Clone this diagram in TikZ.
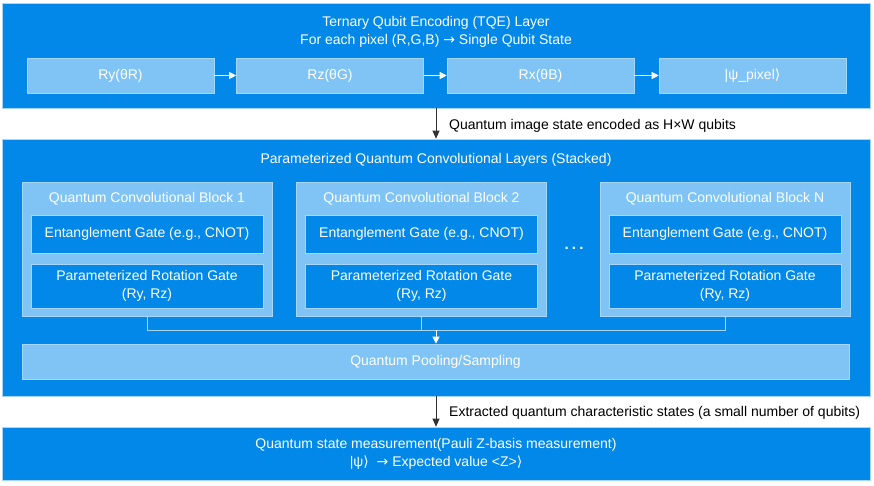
\documentclass[tikz,border=0pt]{standalone}
\usepackage{fontspec}
\setmainfont{Liberation Sans}
\newfontfamily\djv{DejaVu Sans}
\newcommand\rang{{\djv ⟩}}
\newcommand\rarr{{\djv →}}
\usetikzlibrary{arrows.meta}
\definecolor{dk}{HTML}{0288E9}
\definecolor{lt}{HTML}{80C4F5}
\definecolor{edgec}{HTML}{A6D6F8}
\definecolor{arr}{HTML}{333333}
\begin{document}
\begin{tikzpicture}[x=1pt,y=-1pt,
  every node/.style={inner sep=0pt, font=\fontsize{14}{18}\selectfont, text=white, align=center},
  dkbox/.style={fill=dk, draw=edgec, line width=0.6pt},
  ltbox/.style={fill=lt, draw=edgec, line width=0.6pt},
  gatebox/.style={dkbox, minimum width=232pt},
  blockbox/.style={ltbox, minimum width=250pt, minimum height=134pt},
  encbox/.style={ltbox, minimum width=187pt, minimum height=35pt},
  wharrow/.style={draw=white, line width=0.8pt, -{Triangle[length=7pt,width=7pt]}},
  dkarrow/.style={draw=arr, line width=0.8pt, -{Triangle[length=8pt,width=7pt]}},
  ltline/.style={draw=edgec, line width=0.8pt},
  lbl/.style={text=black, anchor=west}]
\useasboundingbox (0,0) rectangle (874,486);
\fill[white] (0,0) rectangle (874,486);

% Top layer
\node[dkbox, minimum width=868pt, minimum height=105pt] (tqe) at (436,55.5) {};
\node (tqet) at (436,31.5) {Ternary Qubit Encoding (TQE) Layer\\For each pixel (R,G,B) \rarr{} Single Qubit State};
\node[encbox] (ry) at (120.5,75.5) {Ry(θR)};
\node[encbox] (rz) at (330,75.5) {Rz(θG)};
\node[encbox] (rx) at (540.5,75.5) {Rx(θB)};
\node[encbox] (psi) at (752.5,75.5) {|ψ\_pixel\rang};
\draw[wharrow] (ry) -- (rz);
\draw[wharrow] (rz) -- (rx);
\draw[wharrow] (rx) -- (psi);

% Convolutional layers
\node[dkbox, minimum width=868pt, minimum height=257pt] (conv) at (436,267.5) {};
\draw[dkarrow] (tqe) -- (conv);
\node[lbl] (l1) at (449,125.5) {Quantum image state encoded as H×W qubits};
\node (convt) at (436,160) {Parameterized Quantum Convolutional Layers (Stacked)};

\node[blockbox] (b1) at (147,249) {};
\node[blockbox] (b2) at (421.5,249) {};
\node[blockbox] (b3) at (725,249) {};
\node (b1t) at (147,199) {Quantum Convolutional Block 1};
\node (b2t) at (421.5,199) {Quantum Convolutional Block 2};
\node (b3t) at (725,199) {Quantum Convolutional Block N};
\node[gatebox, minimum height=38pt] (e1) at (147,234) {Entanglement Gate (e.g., CNOT)};
\node[gatebox, minimum height=38pt] (e2) at (421.5,234) {Entanglement Gate (e.g., CNOT)};
\node[gatebox, minimum height=38pt] (e3) at (725,234) {Entanglement Gate (e.g., CNOT)};
\node[gatebox, minimum height=44pt] (p1) at (147,286) {Parameterized Rotation Gate\\(Ry, Rz)};
\node[gatebox, minimum height=44pt] (p2) at (421.5,286) {Parameterized Rotation Gate\\(Ry, Rz)};
\node[gatebox, minimum height=44pt] (p3) at (725,286) {Parameterized Rotation Gate\\(Ry, Rz)};
\node[anchor=base, font=\fontsize{15}{18}\bfseries] (dots) at (574,249) {.\hspace{3.2pt}.\hspace{3.2pt}.};

\node[ltbox, minimum width=827pt, minimum height=35pt] (pool) at (435.5,361.5) {Quantum Pooling/Sampling};
\coordinate (jl) at (147,330);
\coordinate (jr) at (725,330);
\coordinate (jm) at (436,330);
\draw[ltline] (b1.south) -- (jl) -- (jr) -- (b3.south);
\draw[ltline] (b2.south) -- (b2.south |- jl);
\draw[wharrow] (jm) -- (jm |- pool.north);

% Measurement
\node[dkbox, minimum width=868pt, minimum height=53pt] (meas) at (436,453.5) {Quantum state measurement(Pauli Z-basis measurement)\\|ψ\rang\ \ \rarr{} Expected value <Z>\rang};
\draw[dkarrow] (conv) -- (meas);
\node[lbl] (l2) at (449,412.5) {Extracted quantum characteristic states (a small number of qubits)};
\end{tikzpicture}
\end{document}
